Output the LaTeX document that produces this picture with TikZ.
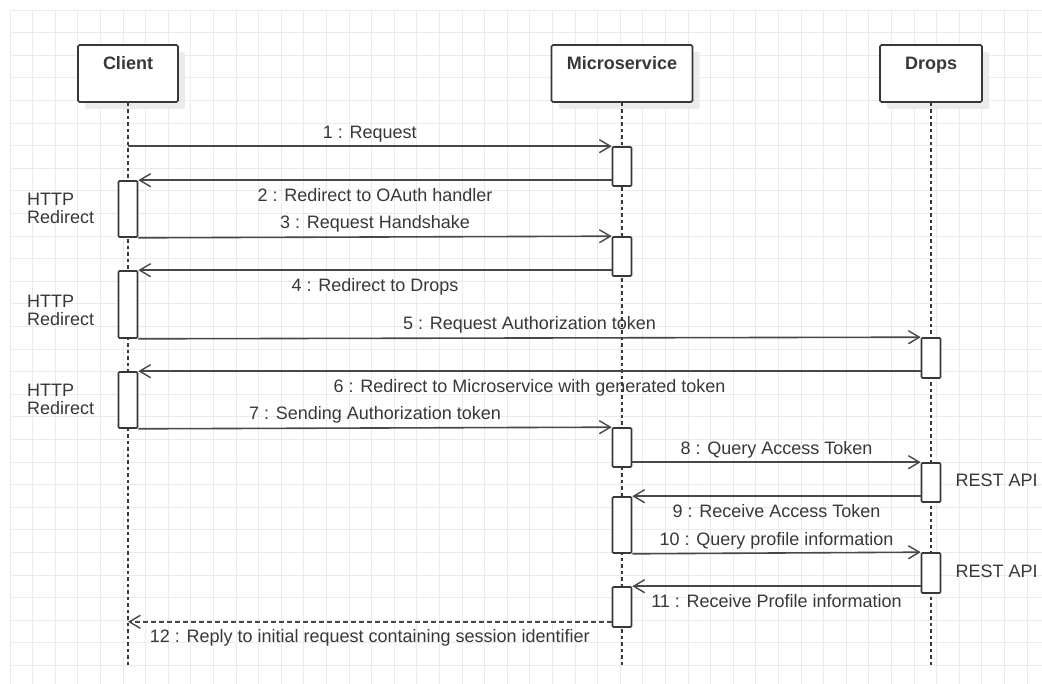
\documentclass[tikz,border=0pt]{standalone}
\usepackage{fontspec}
\setmainfont{Liberation Sans}
\usetikzlibrary{arrows.meta,calc,shadows}
\definecolor{gridc}{HTML}{EBEBEB}
\definecolor{ink}{HTML}{383838}
\definecolor{wire}{HTML}{484848}
\begin{document}
\begin{tikzpicture}[x=1pt,y=-1pt,
  font=\fontsize{18}{18}\selectfont,
  head/.style={draw=ink, line width=1.6pt, fill=white, rounded corners=1.5pt,
    inner sep=0, minimum height=57pt,
    drop shadow={shadow xshift=7pt, shadow yshift=-7pt, fill=black!8, opacity=1}},
  headtxt/.style={text=ink, font=\fontsize{18}{18}\selectfont\bfseries, anchor=base, inner sep=0},
  act/.style={draw=ink, line width=1.6pt, fill=white, rounded corners=1pt,
    inner sep=0, minimum width=19pt},
  life/.style={ink, line width=1.4pt, dash pattern=on 3.5pt off 3pt},
  msg/.style={wire, line width=1.6pt,
    -{Straight Barb[length=11pt, width=13pt, line width=1.4pt]}},
  reply/.style={msg, dash pattern=on 4.5pt off 3.5pt},
  lab/.style={text=ink, anchor=base, inner sep=0, midway},
  up/.style={lab, yshift=8pt},
  down/.style={lab, yshift=-21pt},
  note/.style={text=ink, anchor=west, align=left, inner sep=0}]

\useasboundingbox (0,0) rectangle (1042,684);
\fill[white] (0,0) rectangle (1042,684);

% background grid
\foreach \i in {0,...,45}
  \draw[gridc, line width=0.9pt] ({10+22.6*\i},10) -- ({10+22.6*\i},684);
\foreach \j in {0,...,29}
  \draw[gridc, line width=0.9pt] (10,{10+22.6*\j}) -- (1042,{10+22.6*\j});

% participants
\node[head, minimum width=100pt] (client) at (128,73.5) {};
\node[head, minimum width=141pt] (micro) at (622,73.5) {};
\node[head, minimum width=102pt] (drops) at (931,73.5) {};
\node[headtxt] (clientT) at (128,69.5) {Client};
\node[headtxt] (microT) at (622,69.5) {Microservice};
\node[headtxt] (dropsT) at (931,69.5) {Drops};

% lifelines
\coordinate (bottom) at (0,665);
\draw[life] (client.south) -- (client.south |- bottom);
\draw[life] (micro.south) -- (micro.south |- bottom);
\draw[life] (drops.south) -- (drops.south |- bottom);

% activation bars
\node[act, minimum height=56pt] (c1) at (128,209) {};
\node[act, minimum height=67pt] (c2) at (128,304.5) {};
\node[act, minimum height=56pt] (c3) at (128,400) {};
\node[act, minimum height=39pt] (m1) at (622,166.5) {};
\node[act, minimum height=39pt] (m2) at (622,256.5) {};
\node[act, minimum height=39pt] (m3) at (622,447.5) {};
\node[act, minimum height=56pt] (m4) at (622,525) {};
\node[act, minimum height=40pt] (m5) at (622,607) {};
\node[act, minimum height=40pt] (d1) at (931,358) {};
\node[act, minimum height=39pt] (d2) at (931,482.5) {};
\node[act, minimum height=40pt] (d3) at (931,573) {};

% side notes
\node[note] (hr1) at (27,208) {HTTP\\Redirect};
\node[note] (hr2) at (27,310) {HTTP\\Redirect};
\node[note] (hr3) at (27,399) {HTTP\\Redirect};
\node[note] (rest1) at ($(d2.east)+(14,-2)$) {REST API};
\node[note] (rest2) at ($(d3.east)+(14,-2)$) {REST API};

% messages
\draw[msg] (m1.north west -| client.south) -- node[up] {1 : Request} (m1.north west);
\draw[msg] (m1.west |- c1.north) -- node[down] {2 : Redirect to OAuth handler} (c1.north east);
\draw[msg] (c1.south east) -- node[up] {3 : Request Handshake} (m2.north west);
\draw[msg] (m2.west |- c2.north) -- node[down] {4 : Redirect to Drops} (c2.north east);
\draw[msg] (c2.south east) -- node[up] {5 : Request Authorization token} (d1.north west);
\draw[msg] (d1.west |- c3.north) -- node[down] {6 : Redirect to Microservice with generated token} (c3.north east);
\draw[msg] (c3.south east) -- node[up] {7 : Sending Authorization token} (m3.north west);
\draw[msg] (m3.east |- d2.north) -- node[up] {8 : Query Access Token} (d2.north west);
\draw[msg] (d2.west |- m4.north) -- node[down] {9 : Receive Access Token} (m4.north east);
\draw[msg] (m4.south east) -- node[up] {10 : Query profile information} (d3.north west);
\draw[msg] (d3.west |- m5.north) -- node[down] {11 : Receive Profile information} (m5.north east);
\coordinate (r12) at ($(m5.south west)+(0,-6)$);
\draw[reply] (r12) -- node[down] {12 : Reply to initial request containing session identifier} (r12 -| client.south);
\end{tikzpicture}
\end{document}
